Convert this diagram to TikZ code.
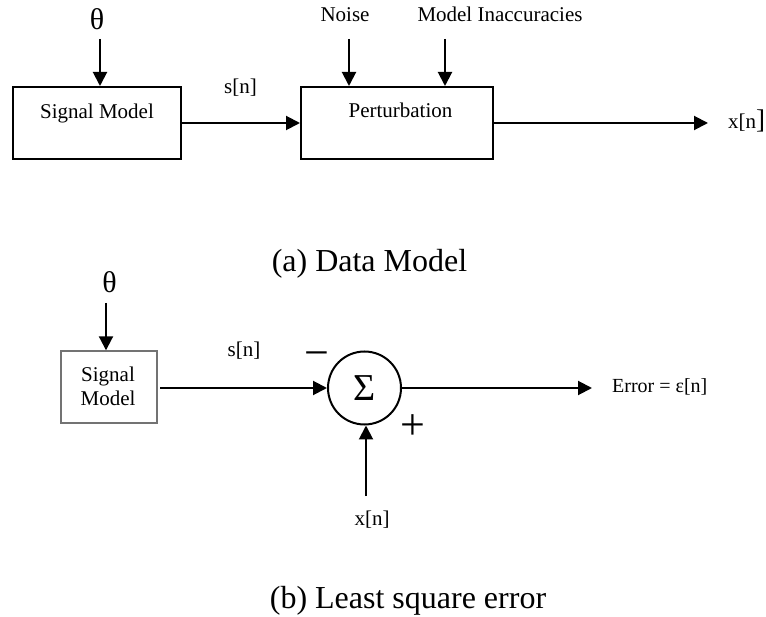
\documentclass[tikz,border=0pt]{standalone}
\usepackage{fontspec}
\setmainfont{Liberation Serif}
\usetikzlibrary{arrows.meta}

\tikzset{
  blockbox/.style={draw, line width=2pt, inner sep=0pt},
  thinbox/.style={draw=black!55, line width=1.4pt, inner sep=0pt},
  lbl/.style={inner sep=0pt, anchor=base, font=\fontsize{21}{24}\selectfont},
  greek/.style={inner sep=0pt, anchor=base, font=\fontsize{30}{32}\selectfont},
  caption/.style={inner sep=0pt, anchor=base, font=\fontsize{32}{36}\selectfont},
  sign/.style={inner sep=0pt, anchor=base, font=\fontsize{44}{44}\selectfont},
  arr/.style={line width=2pt, -{Triangle[length=14pt,width=14pt]}},
}

\begin{document}
\begin{tikzpicture}[x=1pt, y=-1pt]
  \useasboundingbox (0,0) rectangle (766,617);

  % ---------- (a) data model ----------
  \node[blockbox, minimum width=168pt, minimum height=72pt] (sm1) at (97,123) {};
  \node[lbl] (sm1t) at (97,119) {Signal Model};
  \node[blockbox, minimum width=192pt, minimum height=72pt] (pt) at (397,123) {};
  \node[lbl] (ptt) at (400.5,118) {Perturbation};

  \node[greek] (th1) at (97,30) {θ};
  \coordinate (th1s) at (100,39);
  \draw[arr] (th1s) -- (th1s |- sm1.north);

  \node[lbl] (noise) at (345,22) {Noise};
  \coordinate (noises) at (349,39);
  \draw[arr] (noises) -- (noises |- pt.north);

  \node[lbl] (inacc) at (500,22) {Model Inaccuracies};
  \coordinate (inaccs) at (445,39);
  \draw[arr] (inaccs) -- (inaccs |- pt.north);

  \node[lbl] (sn1) at (240.5,94) {s[n]};
  \draw[arr] (sm1.east) -- (pt.west);

  \coordinate (xout) at (708,123);
  \draw[arr] (pt.east) -- (xout);
  \node[lbl, anchor=base west] (xn1) at (728,129) {x[n{\fontsize{27}{27}\selectfont]}};

  \node[caption] (capa) at (369.5,272) {(a) Data Model};

  % ---------- (b) least square error ----------
  \node[thinbox, minimum width=96pt, minimum height=72pt] (sm2) at (109,387) {};
  \node[lbl] (sm2a) at (108,382) {Signal};
  \node[lbl] (sm2b) at (108,406) {Model};

  \node[greek] (th2) at (109.5,293) {θ};
  \coordinate (th2s) at (106,303);
  \draw[arr] (th2s) -- (th2s |- sm2.north);

  \node[draw, circle, line width=2pt, minimum size=73pt, inner sep=0pt,
        font=\fontsize{38}{38}\selectfont] (sum) at (364.5,388) {Σ};

  \coordinate (smout) at (160,388);
  \draw[arr] (smout) -- (sum.west);
  \node[lbl] (sn2) at (244,357) {s[n]};
  \node[sign] (minus) at (316.5,368) {−};
  \node[sign] (plus) at (412.5,439) {+};

  \coordinate (xin) at (366,496);
  \draw[arr] (xin) -- (xin |- sum.south);
  \node[lbl] (xn2) at (372,525) {x[n]};

  \coordinate (eout) at (592,388);
  \draw[arr] (sum.east) -- (eout);
  \node[lbl, anchor=base west, font=\fontsize{20}{24}\selectfont] (err) at (612,393) {Error = ε[n]};

  \node[caption] (capb) at (408,608) {(b) Least square error};
\end{tikzpicture}
\end{document}
